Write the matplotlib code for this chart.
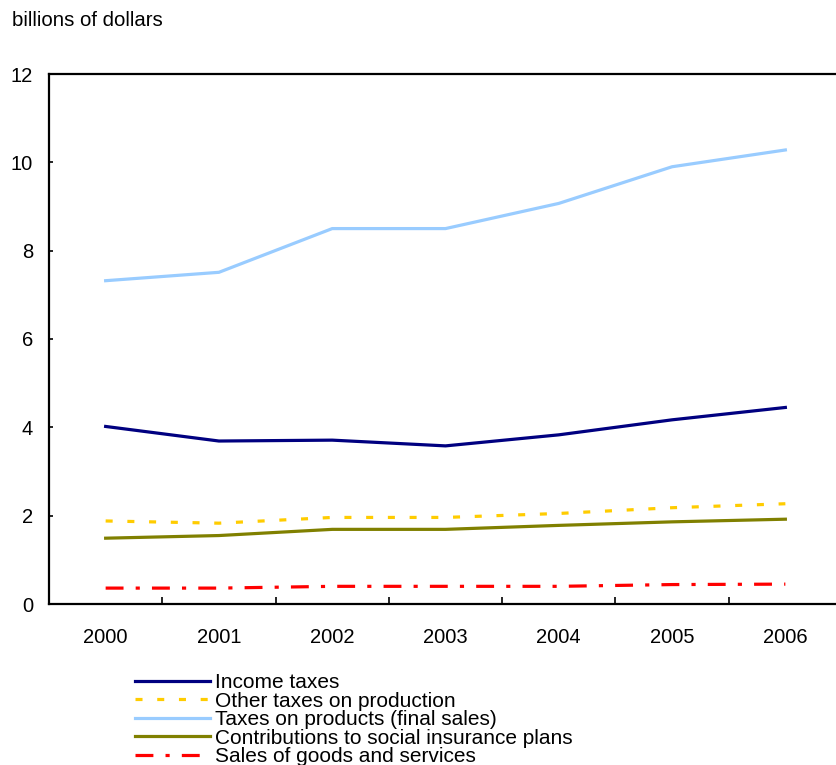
import matplotlib
matplotlib.use("Agg")
import matplotlib.pyplot as plt
from matplotlib.ticker import FixedLocator

plt.rcParams['font.family'] = ['Liberation Sans', 'DejaVu Sans']

# Annual values, billions of dollars
years = ['2000', '2001', '2002', '2003', '2004', '2005', '2006']
income_taxes = [4.02, 3.69, 3.71, 3.58, 3.83, 4.17, 4.45]
other_production = [1.88, 1.83, 1.96, 1.96, 2.05, 2.18, 2.27]
products_final = [7.32, 7.51, 8.50, 8.50, 9.07, 9.90, 10.28]
social_insurance = [1.49, 1.55, 1.69, 1.69, 1.78, 1.86, 1.92]
goods_services = [0.36, 0.36, 0.40, 0.40, 0.40, 0.44, 0.45]

W, H = 836, 765
fig = plt.figure(figsize=(W / 100, H / 100), dpi=100)
# plot area runs a little past the right edge of the figure
ax = fig.add_axes([49 / W, 1 - 604 / H, (842 - 49) / W, (604 - 74) / H])

x = list(range(len(years)))
lw = 2.3
ax.plot(x, income_taxes, color='#000080', lw=lw, label='Income taxes')
ax.plot(x, other_production, color='#FFCC00', lw=lw, dashes=(2.2, 4.6),
        label='Other taxes on production')
ax.plot(x, products_final, color='#99CCFF', lw=lw,
        label='Taxes on products (final sales)')
ax.plot(x, social_insurance, color='#808000', lw=lw,
        label='Contributions to social insurance plans')
ax.plot(x, goods_services, color='#FF0000', lw=lw, dashes=(5.6, 3.8, 1.3, 3.8),
        label='Sales of goods and services')

ax.set_xlim(-0.5, len(years) - 0.5)
ax.set_ylim(0, 12)
ax.set_yticks(range(0, 13, 2))
ax.set_xticks(x)
ax.set_xticklabels(years)
ax.xaxis.set_minor_locator(FixedLocator([i + 0.5 for i in x[:-1]]))
ax.tick_params(axis='x', which='major', length=0, pad=17, labelsize=14.5)
ax.tick_params(axis='x', which='minor', length=5, width=1.2, direction='in')
ax.tick_params(axis='y', length=3, width=1.2, direction='in', pad=11.5,
               labelsize=14.5)

for side in ['top', 'left', 'bottom']:
    ax.spines[side].set_linewidth(1.6)
ax.spines['right'].set_visible(False)

fig.text(12 / W, 1 - 20 / H, 'billions of dollars', fontsize=14.7,
         va='center', ha='left')

fig.legend(loc='upper left', bbox_to_anchor=(135 / W, 1 - 673 / H),
           frameon=False, fontsize=15, handlelength=3.58, handletextpad=0.24,
           labelspacing=-0.02, borderpad=0, borderaxespad=0)

fig.savefig('out.png', dpi=100)
